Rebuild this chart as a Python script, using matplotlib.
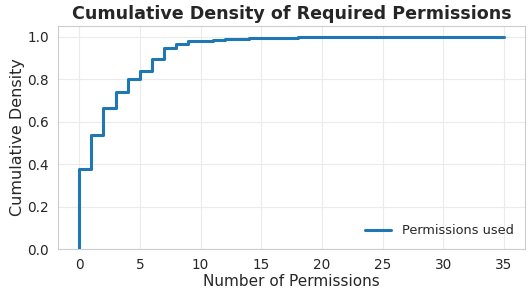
import numpy as np
import matplotlib
matplotlib.use("Agg")
import matplotlib.pyplot as plt
import seaborn as sns

# number of permissions requested (distinct values) and cumulative density
perms = [0, 1, 2, 3, 4, 5, 6, 7, 8, 9, 10, 11, 12, 14, 15, 18, 27, 29, 35]
cdf = [0.375, 0.535, 0.665, 0.74, 0.80, 0.84, 0.895, 0.945, 0.965, 0.977,
       0.980, 0.985, 0.990, 0.992, 0.994, 0.996, 0.998, 0.999, 1.0]

sns.set_style("whitegrid")
plt.rcParams['font.family'] = ['DejaVu Sans']

fig, ax = plt.subplots(figsize=(5.32, 2.91), dpi=100)
ax.plot(np.r_[0, perms], np.r_[0, cdf], drawstyle='steps-post',
        color='#1f77b4', linewidth=2.2, label='Permissions used')
ax.set_ylim(0, 1.05)
ax.set_xticks(range(0, 36, 5))
ax.set_title('Cumulative Density of Required Permissions', fontsize=12.6,
             fontweight='bold', pad=5)
ax.set_xlabel('Number of Permissions', fontsize=11, labelpad=1)
ax.set_ylabel('Cumulative Density', fontsize=11.5, labelpad=2)
ax.tick_params(labelsize=9.8, pad=3)
ax.grid(color='#ebebeb')
for s in ax.spines.values():
    s.set_color('#cccccc')
ax.legend(loc='lower right', frameon=False, fontsize=9.3)
fig.subplots_adjust(left=0.109, right=0.987, top=0.911, bottom=0.144)
fig.savefig('out.png', dpi=100)
